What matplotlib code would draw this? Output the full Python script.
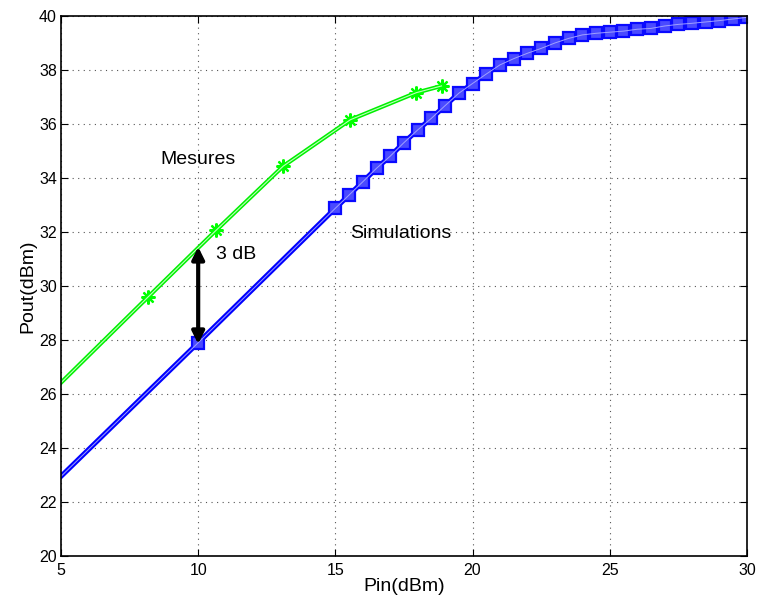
import matplotlib
matplotlib.use('Agg')
import matplotlib.pyplot as plt

plt.rcParams['font.family'] = ['Liberation Sans', 'DejaVu Sans']

# mesures (green, stars)
pin_mes = [3.3, 8.18, 10.66, 13.1, 15.55, 17.95, 18.87]
pout_mes = [24.72, 29.6, 32.07, 34.44, 36.16, 37.16, 37.41]

# simulations (blue, squares)
pin_sim = [0, 10, 15, 15.5, 16, 16.5, 17, 17.5, 18, 18.5, 19, 19.5, 20, 20.5,
           21, 21.5, 22, 22.5, 23, 23.5, 24, 24.5, 25, 25.5, 26, 26.5, 27,
           27.5, 28, 28.5, 29, 29.5, 30]
pout_sim = [18.0, 27.9, 32.88, 33.37, 33.86, 34.36, 34.81, 35.31, 35.78, 36.21,
            36.68, 37.14, 37.5, 37.85, 38.19, 38.42, 38.62, 38.8, 39.0, 39.17,
            39.3, 39.36, 39.4, 39.44, 39.51, 39.54, 39.63, 39.69, 39.73, 39.78,
            39.83, 39.89, 39.95]


def main():
    fig = plt.figure(figsize=(7.57, 6.02), dpi=100)
    ax = fig.add_axes([0.0806, 0.0764, 0.906, 0.897])

    # double green line with asterisks
    ax.plot(pin_mes, pout_mes, color='#00f000', lw=3.0, marker=(8, 2, 0),
            ms=10, mec='#00ff00', mew=1.6)
    ax.plot(pin_mes, pout_mes, color='#c0ffc0', lw=0.8)

    # triple blue line with squares
    ax.plot(pin_sim, pout_sim, color='#0000ff', lw=3.6, marker='s', ms=8,
            mec='#0a0aff', mfc='#4a4aff', mew=1.6)
    ax.plot(pin_sim, pout_sim, color='#a0a0ff', lw=0.7)

    ax.annotate('', xy=(10, 27.85), xytext=(10, 31.45),
                arrowprops=dict(arrowstyle='<|-|>', color='black', lw=3,
                                mutation_scale=18, shrinkA=0, shrinkB=0))

    ax.text(8.61, 34.67, 'Mesures', fontsize=14, va='center', ha='left')
    ax.text(15.55, 31.96, 'Simulations', fontsize=14, va='center', ha='left')
    ax.text(10.66, 31.15, '3 dB', fontsize=14, va='center', ha='left')

    ax.set_xlim(5, 30)
    ax.set_ylim(20, 40)
    ax.set_xticks([5, 10, 15, 20, 25, 30])
    ax.set_yticks(range(20, 41, 2))
    ax.tick_params(direction='in', top=True, right=True, labelsize=11.5,
                   length=5, width=0.8, pad=3)
    ax.tick_params(axis='x', pad=5)
    ax.grid(True, color='#555555', linestyle=(0, (1, 4)), lw=0.8)
    for s in ax.spines.values():
        s.set_linewidth(1.2)
    ax.set_xlabel('Pin(dBm)', fontsize=14, labelpad=0)
    ax.set_ylabel('Pout(dBm)', fontsize=14, labelpad=2)

    fig.savefig('out.png', dpi=100)


if __name__ == '__main__':
    main()
